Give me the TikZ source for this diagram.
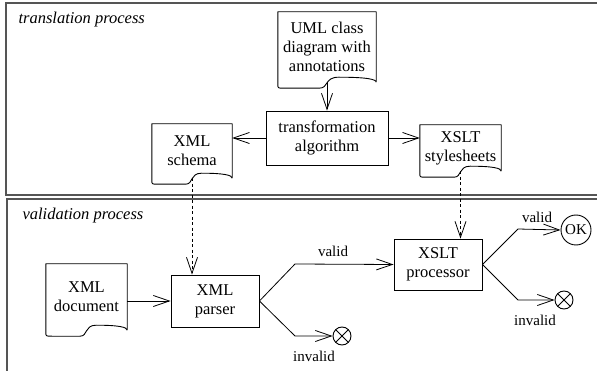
\documentclass[tikz,border=0pt]{standalone}
\usepackage{fontspec}
\setmainfont{Liberation Serif}
\usetikzlibrary{arrows.meta,positioning,calc}
\definecolor{framegray}{RGB}{85,85,85}

\tikzset{
  boxline/.style={line width=0.9pt},
  procbox/.style={draw, boxline, rectangle, align=center, inner sep=2pt, font=\fontsize{16.5}{19}\selectfont},
  docbox/.style={rectangle, align=center, inner sep=2pt, font=\fontsize{16.5}{19}\selectfont},
  docline/.style={boxline, line join=round},
  flow/.style={line width=0.8pt, -{Straight Barb[length=16pt,width=11pt,line width=0.8pt]}},
  dataflow/.style={flow, dash pattern=on 3pt off 2.5pt},
  endstate/.style={draw, boxline, circle, minimum size=30pt, inner sep=0pt, font=\fontsize{15}{17}\selectfont},
  failstate/.style={draw, boxline, circle, minimum size=18pt, inner sep=0pt,
    path picture={\draw[line width=0.8pt] (path picture bounding box.north west) -- (path picture bounding box.south east)
      (path picture bounding box.south west) -- (path picture bounding box.north east);}},
  guard/.style={font=\fontsize{15}{17}\selectfont},
  lanetitle/.style={anchor=west, font=\fontsize{16.5}{19}\selectfont\itshape},
  lanerule/.style={draw=framegray, line width=1.6pt},
}

% document outline with the wavy lower edge
\newcommand{\docoutline}[1]{%
  \draw[docline] (#1.south east) -- (#1.north east) -- (#1.north west) -- ([yshift=-2pt]#1.south west)
    .. controls ([yshift=-6pt]#1.south west) .. ([xshift=6pt,yshift=-6pt]#1.south west)
    -- ($(#1.south west)!0.42!(#1.south east)+(0,6)$)
    .. controls ($(#1.south west)!0.52!(#1.south east)+(0,6)$) and ($(#1.south west)!0.47!(#1.south east)+(0,-5)$)
    .. ($(#1.south west)!0.62!(#1.south east)+(0,-5)$)
    .. controls ($(#1.south west)!0.9!(#1.south east)+(0,-5)$) and ([yshift=3pt]#1.south east) .. (#1.south east);
}

\begin{document}
\begin{tikzpicture}[x=1pt, y=-1pt]
  \useasboundingbox (0,0) rectangle (597,371);

  % swim lanes
  \draw[lanerule] (597,3) -- (6,3) -- (6,195) -- (597,195);
  \draw[lanerule] (597,199) -- (7,199) -- (7,371);
  \node[lanetitle] (transtitle) at (15,20) {translation process};
  \node[lanetitle] (validtitle) at (19,216) {validation process};

  % translation
  \node[docbox, minimum width=98pt, minimum height=70pt] (uml) at (327,47) {UML class\\diagram with\\annotations};
  \node[procbox, minimum width=122pt, minimum height=54pt] (trans) at (327,138) {transformation\\algorithm};
  \node[docbox, minimum width=80pt, minimum height=54pt] (schema) at (192,151) {XML\\schema};
  \node[docbox, minimum width=81pt, minimum height=46pt] (sheets) at (460.5,148) {XSLT\\stylesheets};
  \docoutline{uml}
  \docoutline{schema}
  \docoutline{sheets}

  \draw[flow] (uml.south) -- (trans.north);
  \draw[flow] (trans.west) -- (trans.west -| schema.east);
  \draw[flow] (trans.east) -- (trans.east -| sheets.west);

  % validation
  \node[docbox, minimum width=81pt, minimum height=66pt] (xmldoc) at (86.5,297) {XML\\document};
  \node[procbox, minimum width=88pt, minimum height=52pt] (parser) at (215,301) {XML\\parser};
  \node[procbox, minimum width=88pt, minimum height=51pt] (proc) at (438,264.5) {XSLT\\processor};
  \docoutline{xmldoc}

  \node[endstate] (ok) at (576,230) {OK};
  \node[failstate] (pbad) at (342,336) {};
  \node[failstate] (xbad) at (564,300) {};

  \coordinate (pv) at (295,264);
  \coordinate (pi) at (295,336);
  \coordinate (xv) at (518,229);
  \coordinate (xi) at (518,300);

  \draw[dataflow] (schema.south) -- (schema.south |- parser.north);
  \draw[dataflow] (sheets.south) -- (sheets.south |- proc.north);
  \draw[flow] (xmldoc.east |- parser.west) -- (parser.west);

  \draw[flow] (parser.east) -- (pv) -- (proc.west);
  \draw[flow] (parser.east) -- (pi) -- (pbad.west);
  \draw[flow] (proc.east) -- (xv) -- (ok.west);
  \draw[flow] (proc.east) -- (xi) -- (xbad.west);

  \node[guard] (pvlabel) at (333,251) {valid};
  \node[guard] (pilabel) at (314,356) {invalid};
  \node[guard] (xvlabel) at (537,217) {valid};
  \node[guard] (xilabel) at (535,320) {invalid};
\end{tikzpicture}
\end{document}
